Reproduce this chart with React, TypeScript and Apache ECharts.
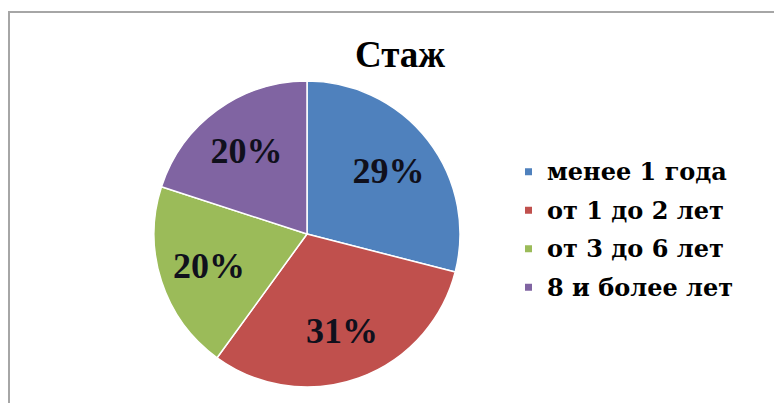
import React, { useEffect, useRef } from "react";
import * as echarts from "echarts";

const title = "Стаж";
const categories = ["менее 1 года", "от 1 до 2 лет", "от 3 до 6 лет", "8 и более лет"];
const values = [29, 31, 20, 20];
const colors = ["#4F81BD", "#C0504D", "#9BBB59", "#8064A2"];

export default function App() {
  const ref = useRef<HTMLDivElement>(null);
  useEffect(() => {
    document.body.style.margin = "0";
    const chart = echarts.init(ref.current!, null, { renderer: "svg" });
    const data = categories.map((name, i) => ({ name, value: values[i] }));
    const serif = "Liberation Serif";
    chart.setOption({
      animation: false,
      backgroundColor: "#ffffff",
      color: colors,
      title: {
        text: title,
        left: 395,
        top: 31,
        textAlign: "center",
        textStyle: { fontFamily: serif, fontWeight: "bold", fontSize: 37, color: "#000000" },
      },
      legend: {
        orient: "vertical",
        left: 518,
        top: 152,
        itemWidth: 9,
        itemHeight: 9,
        itemGap: 9,
        icon: "rect",
        selectedMode: false,
        data: categories,
        textStyle: {
          fontFamily: "DejaVu Serif",
          fontWeight: "bold",
          fontSize: 24,
          lineHeight: 29.5,
          color: "#000000",
          padding: [0, 0, 0, 9],
        },
      },
      graphic: [
        {
          type: "rect",
          shape: { x: 9, y: 12, width: 900, height: 600 },
          style: { fill: "none", stroke: "#a6a6a6", lineWidth: 2 },
          silent: true,
        },
      ],
      series: [
        {
          type: "pie",
          center: [307, 234],
          radius: [0, 153],
          startAngle: 90,
          clockwise: true,
          data,
          label: { show: false },
          labelLine: { show: false },
          itemStyle: { borderColor: "#ffffff", borderWidth: 1.5 },
          emphasis: { disabled: true },
        },
        {
          type: "pie",
          center: [307, 234],
          radius: [0, 200],
          startAngle: 90,
          clockwise: true,
          silent: true,
          data,
          itemStyle: { color: "rgba(0,0,0,0)", borderWidth: 0 },
          labelLine: { show: false },
          label: {
            show: true,
            position: "inside",
            formatter: "{d}%",
            fontFamily: serif,
            fontWeight: "bold",
            fontSize: 36,
            color: "#10101c",
          },
          emphasis: { disabled: true },
        },
      ],
    });
    return () => chart.dispose();
  }, []);
  return <div ref={ref} style={{ width: 774, height: 403 }} />;
}
